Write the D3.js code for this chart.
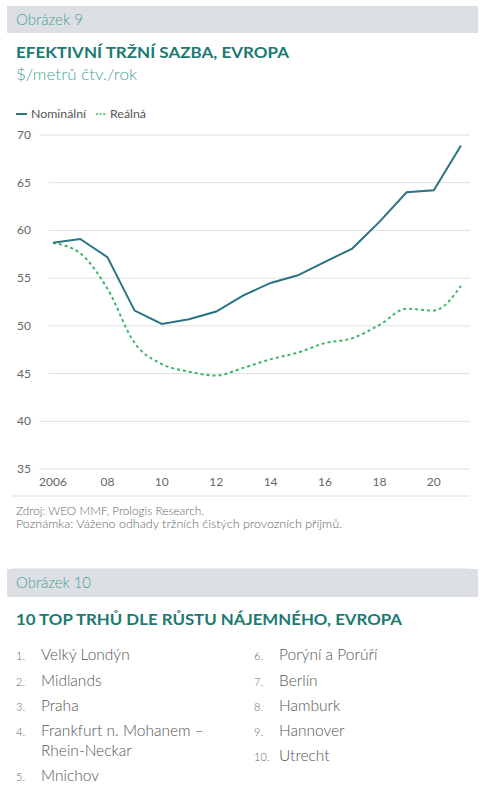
<!DOCTYPE html>
<html><head><meta charset="utf-8">
<script src="https://cdn.jsdelivr.net/npm/d3@7"></script>
<style>
body{margin:0;background:#fff;}
svg{display:block;font-family:"Lato","Noto Sans",sans-serif;}
</style></head>
<body><svg id="c" width="488" height="801"></svg>
<script>
const years = [2006,2007,2008,2009,2010,2011,2012,2013,2014,2015,2016,2017,2018,2019,2020,2021];
const nominal = [58.7,59.1,57.2,51.6,50.2,50.7,51.5,53.2,54.5,55.3,56.7,58.1,60.9,64.0,64.2,68.9];
const real    = [58.7,57.6,53.9,48.2,46.0,45.2,44.8,45.6,46.5,47.2,48.2,48.7,50.1,51.8,51.6,54.2];
const yTicks = [35,40,45,50,55,60,65,70];
const xTicks = [2006,2008,2010,2012,2014,2016,2018,2020];
const xTickLabels = ["2006","08","10","12","14","16","18","20"];
const seriesNames = ["Nominální","Reálná"];
const topMarkets = ["Velký Londýn","Midlands","Praha","Frankfurt n. Mohanem –\nRhein-Neckar","Mnichov","Porýní a Porúří","Berlín","Hamburk","Hannover","Utrecht"];

const svg = d3.select("#c");
const TEAL = "#1c7a72", LTEAL = "#4a9f98", NOM = "#2a7384", REAL = "#3cb56b", GRID="#dde1e3", GRAY="#666";

function fit(sel, w){ sel.attr("textLength", w).attr("lengthAdjust","spacingAndGlyphs"); return sel; }

// Header 1
svg.append("rect").attr("x",7).attr("y",6).attr("width",471).attr("height",27).attr("fill","#dcdfe3");
fit(svg.append("text").attr("x",16).attr("y",25).attr("font-size",15).attr("font-weight",300).attr("fill",LTEAL).text("Obrázek 9"),67);
fit(svg.append("text").attr("x",16).attr("y",58).attr("font-size",16).attr("font-weight",700).attr("fill",TEAL).text("EFEKTIVNÍ TRŽNÍ SAZBA, EVROPA"),273);
fit(svg.append("text").attr("x",16).attr("y",80).attr("font-size",16).attr("font-weight",300).attr("fill",LTEAL).text("$/metrů čtv./rok"),121);

// Legend
svg.append("line").attr("x1",16).attr("x2",27).attr("y1",114).attr("y2",114).attr("stroke",NOM).attr("stroke-width",2);
fit(svg.append("text").attr("x",31).attr("y",118).attr("font-size",12).attr("fill","#555").text(seriesNames[0]),55);
svg.append("line").attr("x1",96).attr("x2",107).attr("y1",114).attr("y2",114).attr("stroke",REAL).attr("stroke-width",1.5).attr("stroke-dasharray","2,1.6");
fit(svg.append("text").attr("x",110).attr("y",118).attr("font-size",12).attr("fill","#555").text(seriesNames[1]),36);

// Scales
const x = d3.scaleLinear().domain([2006,2021]).range([53,461]);
const y = d3.scaleLinear().domain([35,70]).range([469,135]);

// gridlines
const narrowStart = new Set([35,40,70]);
svg.append("g").selectAll("line").data(yTicks).join("line")
  .attr("x1",d=>narrowStart.has(d)?39:49).attr("x2",470)
  .attr("y1",d=>y(d)).attr("y2",d=>y(d))
  .attr("stroke",GRID).attr("stroke-width",1);
svg.append("g").selectAll("text").data(yTicks).join("text")
  .attr("x",17).attr("y",d=>y(d)+4).attr("font-size",12).attr("fill",GRAY).text(d=>d);

// x axis labels
svg.append("g").selectAll("text").data(xTicks).join("text")
  .attr("x",d=>x(d)).attr("y",486).attr("text-anchor","middle").attr("font-size",12).attr("fill",GRAY)
  .text((d,i)=>xTickLabels[i]);

// lines
const lineNom = d3.line().x((d,i)=>x(years[i])).y(d=>y(d));
const lineReal = d3.line().x((d,i)=>x(years[i])).y(d=>y(d)).curve(d3.curveMonotoneX);
svg.append("path").attr("d",lineReal(real)).attr("fill","none").attr("stroke",REAL).attr("stroke-width",2).attr("stroke-dasharray","3,3");
svg.append("path").attr("d",lineNom(nominal)).attr("fill","none").attr("stroke",NOM).attr("stroke-width",2);

// separator
svg.append("line").attr("x1",12).attr("x2",470).attr("y1",496).attr("y2",496).attr("stroke","#d8dcdf");
fit(svg.append("text").attr("x",16).attr("y",515).attr("font-size",11).attr("font-weight",300).attr("fill","#666").text("Zdroj: WEO MMF, Prologis Research."),188);
fit(svg.append("text").attr("x",16).attr("y",528).attr("font-size",11).attr("font-weight",300).attr("fill","#666").text("Poznámka: Váženo odhady tržních čistých provozních příjmů."),326);
svg.append("line").attr("x1",12).attr("x2",470).attr("y1",569).attr("y2",569).attr("stroke","#d8dcdf");

// Header 2
svg.append("rect").attr("x",7).attr("y",569).attr("width",471).attr("height",28).attr("fill","#dcdfe3");
fit(svg.append("text").attr("x",16).attr("y",588).attr("font-size",15).attr("font-weight",300).attr("fill",LTEAL).text("Obrázek 10"),75);
fit(svg.append("text").attr("x",16).attr("y",625).attr("font-size",16).attr("font-weight",700).attr("fill",TEAL).text("10 TOP TRHŮ DLE RŮSTU NÁJEMNÉHO, EVROPA"),386);

// List
const leftY = [660,686,711,736,781];
const rightY = [660,686,711,736,761];
topMarkets.forEach((name,i)=>{
  const left = i<5;
  const bx = left?16:254, tx = left?41:279;
  const by = left?leftY[i]:rightY[i-5];
  svg.append("text").attr("x",bx).attr("y",by).attr("font-size",11).attr("font-weight",300).attr("fill","#666").text((i+1)+".");
  name.split("\n").forEach((part,j)=>{
    svg.append("text").attr("x",tx).attr("y",by+j*20).attr("font-size",15.5).attr("font-weight",300).attr("fill","#555").text(part);
  });
});
</script></body></html>
